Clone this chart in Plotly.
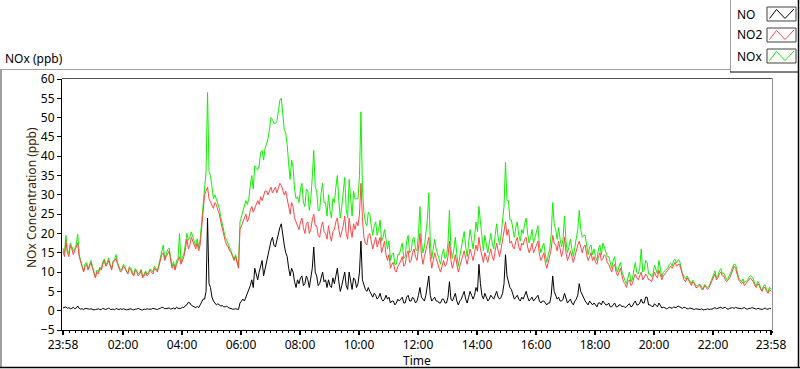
import plotly.graph_objects as go
import pandas as pd

# ---------------- data (3-minute samples) ----------------
START = "2023-05-01 23:58"
STEP_MIN = 3

NO2 = [
    15.5, 14, 18, 15, 14, 17, 16, 14.5, 15.5, 16.5, 17.5, 14, 12.5, 11, 10, 11.5, 12, 10.5, 11.5, 12.5,
    11, 9.5, 8.5, 10, 9.5, 11, 10.5, 12, 13, 11.5, 12, 13, 11.5, 10.5, 12.5, 13, 13.5, 12, 11, 10,
    10.5, 11.5, 11, 10, 9.5, 11, 10.5, 9.5, 9, 10.5, 10, 9, 9.5, 10.5, 8.5, 9, 10, 9, 9.5, 10.5,
    10, 9.5, 11, 10.5, 10, 11.5, 13, 14.5, 15, 13, 14, 15, 15.5, 13, 11, 12, 10.5, 12, 13, 14,
    12, 13, 14, 16, 18.5, 16, 17, 19, 18, 16.5, 16, 17.5, 15.5, 17, 21, 25, 30, 31, 32, 29,
    28, 27, 26.5, 28, 27.5, 26, 25, 23, 21, 19.5, 18, 17, 16.5, 15.5, 15, 14, 13, 14, 12.5, 11,
    21, 22, 23, 24.5, 25, 23, 24, 26, 27, 25.5, 26.5, 28, 28.5, 27.5, 29.5, 28.5, 30, 31, 31, 30,
    31, 32, 30.5, 31.5, 32, 30.5, 31.5, 33, 32.5, 31, 30, 31, 29, 27, 25, 28, 27, 24, 23, 21.5,
    21, 23, 24, 21.5, 20, 22.5, 23, 20, 21, 23.5, 25, 22, 22, 19.5, 19, 21.5, 23, 20.5, 20, 18.5,
    22, 19.5, 18, 20.5, 21, 23, 24, 21, 19, 20.5, 22, 24.5, 20, 18.5, 24, 21, 19, 22.5, 21, 23,
    22, 25, 33, 24, 19, 17.5, 17, 19.5, 20, 18, 16, 17.5, 19, 16.5, 17.5, 19, 15, 16.5, 18, 14.5,
    13, 14.5, 11, 12, 12.5, 10.5, 10, 11.5, 12, 13, 14, 11.5, 12, 14.5, 15.5, 12.5, 13, 15, 16, 14,
    13, 16, 20, 14.5, 12, 14, 16, 17.5, 19, 14, 11, 13, 15, 13.5, 12, 11, 10, 11.5, 13, 11.5,
    12, 14, 18, 13, 11, 12.5, 14.5, 12, 10, 11.5, 13, 14.5, 15.5, 13.5, 12, 14, 16, 14.5, 13, 15,
    17, 15.5, 19, 16, 14, 12.5, 15, 13.5, 12.5, 14.5, 16, 14, 13, 15.5, 17.5, 15.5, 14, 16, 18, 20,
    23, 19.5, 21, 17.5, 18, 16.5, 16, 18, 19, 16.5, 15.5, 17.5, 17, 18.5, 19, 16.5, 15, 16, 17.5, 15,
    16, 17, 18, 14.5, 13, 14, 15, 12.5, 11, 12.5, 14, 16, 19.5, 17.5, 17, 15.5, 18, 16, 14, 15.5,
    19, 15, 13, 14, 15.5, 14, 12.5, 14, 16, 17, 18, 16, 15, 16.5, 17, 14.5, 13, 14, 15, 13,
    14, 12.5, 12, 14, 15, 13, 13.5, 14.5, 14, 12.5, 12, 11, 10, 11.5, 12, 10, 9, 10, 11, 9,
    7.5, 7, 6, 7.5, 8, 6.5, 7, 8.5, 9.5, 8.5, 8, 9, 10, 8, 8.5, 9.5, 9, 8, 8, 7.5,
    8.5, 10, 9, 8.5, 10.5, 9, 8, 9, 9.5, 10, 10.5, 11, 11.5, 11, 12, 12.5, 11.5, 12, 12, 10.5,
    9, 8, 7.5, 8.5, 8, 7, 6.5, 7.5, 7, 6, 6, 6.5, 6.5, 5.5, 5.5, 6.5, 6, 5.5, 6, 7,
    8, 8.5, 9.5, 8, 8.5, 9.5, 10, 9, 9, 8, 7.5, 8, 8.5, 9.5, 10.5, 11.5, 11, 9.5, 8, 7.5,
    7, 7.5, 6.5, 7, 7.5, 8, 8.5, 8, 7.5, 6.5, 6, 7, 6.5, 5.5, 5, 6, 6, 5, 4.5, 5.5, 5,
]

NOX = [
    16.2, 14.9, 19.5, 15.6, 14.8, 17.5, 16.6, 15.4, 16, 17.2, 19.8, 14.6, 12.9, 11.5, 10.3, 12.1, 12.5, 10.8, 11.9, 13,
    11.4, 9.7, 8.8, 10.5, 10, 11.3, 10.8, 12.6, 13.4, 11.8, 12.5, 13.7, 11.8, 10.9, 12.9, 13.2, 14.5, 12.4, 11.3, 10.5,
    10.8, 12, 11.4, 10.2, 9.8, 11.4, 11, 9.8, 9.2, 10.9, 10.4, 9.6, 9.8, 10.7, 8.7, 9.4, 10.3, 9.5, 9.9, 10.8,
    10.4, 10.1, 11.5, 10.8, 10.3, 12, 13.6, 15.4, 17, 13.5, 14.6, 15.8, 16.2, 13.4, 11.5, 12.7, 10.9, 12.9, 13.6, 20,
    12.6, 13.9, 14.8, 17.3, 20, 18.2, 19, 20.4, 19.2, 17.4, 16.8, 18.6, 16.3, 18.5, 23.5, 28, 33, 36, 56.5, 36,
    35, 31, 29, 30, 29, 27.8, 26.5, 24.2, 22.3, 20.5, 19, 18.2, 17.3, 16.1, 15.5, 14.4, 13.4, 14.5, 12.9, 11.3,
    23, 24.5, 26, 27, 28.5, 27.5, 29, 32.5, 35, 31.5, 37.5, 37, 36.5, 37.5, 41, 41.5, 39, 42, 43, 44.5,
    47, 50, 49.5, 48.5, 48.5, 49, 51.5, 54.5, 55, 50, 47, 46, 43, 38, 34, 39, 37, 31.5, 29, 29.5,
    28, 31.5, 33, 28, 27, 31.5, 31, 26, 29, 34.5, 41.5, 32, 31, 26, 26, 30.5, 33, 28, 28, 24.5,
    30, 26, 24, 29, 28, 32, 35, 28.5, 24, 27, 30, 34.5, 26.5, 24, 34, 28, 24.5, 31, 29, 29,
    29, 35, 51.5, 32, 25.5, 23, 22, 25.5, 25, 22, 19.5, 22, 23, 19.5, 21, 23.5, 18, 19, 21, 18.5,
    16, 18, 13, 14.5, 15, 12, 12, 14.5, 14.5, 16, 17.5, 13.5, 14, 18, 19.5, 15, 15.5, 18.5, 19, 16,
    15.5, 20, 27, 18, 15, 16.5, 20, 23.5, 30.5, 18, 13.5, 16, 18.5, 16, 14.5, 13, 12, 14.5, 16, 13.5,
    14, 17.5, 26, 16, 13.5, 16, 19, 14.5, 11.5, 14, 16, 18.5, 20.5, 16.5, 14, 17.5, 21, 18.5, 16, 19,
    23, 20.5, 27, 23, 18, 15.5, 19.5, 17, 15, 17.5, 20, 17.5, 16, 19.5, 22.5, 19, 17, 19.5, 22.5, 27,
    38.5, 28.5, 28.5, 23.5, 23.5, 20.5, 19, 21.5, 23, 19.5, 18, 21, 20, 22.5, 24, 20, 17.5, 19, 21, 17.5,
    19, 20.5, 22, 17, 15, 16.5, 17.5, 14.5, 12.5, 14.5, 16, 20, 28, 22.5, 21, 18.5, 21.5, 18.5, 16.5, 18.5,
    24.5, 18, 15, 16.5, 18.5, 16, 14, 16.5, 19, 21, 26, 21, 19, 19.5, 19.5, 16.5, 14.5, 16.5, 17, 14.5,
    16, 14, 13, 16, 17, 14.5, 17.5, 16.5, 15.5, 14, 14, 12, 11, 13, 14, 11, 10, 11.5, 12.5, 10,
    8.7, 7.8, 7, 9, 10, 7.5, 8.2, 10.5, 12.5, 10, 9.5, 11, 16, 10, 10.5, 13, 12.5, 9.5, 9.5, 8.7,
    9.5, 11.8, 10.5, 9.5, 13, 10.2, 8.7, 9.9, 10.3, 10.5, 11.1, 11.9, 12.3, 11.6, 13, 13.3, 12.4, 13.2, 13, 11.2,
    9.6, 8.9, 8.3, 9, 8.5, 7.7, 7.1, 7.9, 7.3, 6.5, 6.4, 6.8, 6.8, 6, 5.7, 6.8, 6.3, 6, 6.3, 7.4,
    8.4, 9.1, 10.3, 8.5, 9.1, 10.3, 10.9, 9.6, 9.7, 8.9, 8, 8.4, 9.1, 10.2, 11.3, 12.1, 11.9, 10.2, 8.6, 8,
    7.5, 8.2, 7.3, 7.5, 7.9, 8.6, 9.1, 8.8, 8.2, 7, 6.4, 7.6, 7, 5.8, 5.3, 6.5, 6.7, 5.4, 4.9, 6.1, 5.5,
]

NO = [
    0.7, 0.9, 1.0, 0.6, 0.8, 0.5, 0.6, 0.9, 0.5, 0.7, 1.2, 0.6, 0.4, 0.5, 0.3, 0.6, 0.5, 0.3, 0.4, 0.5,
    0.4, 0.2, 0.3, 0.5, 0.5, 0.3, 0.3, 0.6, 0.4, 0.3, 0.5, 0.7, 0.3, 0.4, 0.4, 0.2, 0.6, 0.4, 0.3, 0.5,
    0.3, 0.5, 0.4, 0.2, 0.3, 0.4, 0.5, 0.3, 0.2, 0.4, 0.4, 0.6, 0.3, 0.2, 0.2, 0.4, 0.3, 0.5, 0.4, 0.3,
    0.4, 0.6, 0.5, 0.3, 0.3, 0.5, 0.6, 0.9, 0.8, 0.5, 0.6, 0.8, 0.7, 0.4, 0.5, 0.7, 0.4, 0.9, 0.6, 0.5,
    0.6, 0.9, 0.8, 1.3, 1.5, 2.2, 2.0, 1.4, 1.2, 0.9, 0.8, 1.1, 0.8, 1.5, 2.5, 3, 3, 5, 24, 7,
    6, 3.5, 2.5, 2, 1.5, 1.8, 1.5, 1.2, 1.3, 1.0, 1.0, 1.2, 0.8, 0.6, 0.5, 0.4, 0.4, 0.5, 0.4, 0.3,
    2, 2.5, 3, 2.5, 3.5, 4.5, 5, 6.5, 8, 6, 11, 9, 8, 10, 11.5, 13, 9, 11, 12, 14.5,
    16, 18, 19, 17, 16.5, 18.5, 20, 21.5, 22.5, 19, 17, 15, 14, 11, 9, 11, 10, 7.5, 6, 8,
    7, 8.5, 9, 6.5, 7, 9, 8, 6, 8, 11, 16.5, 10, 9, 6.5, 7, 9, 10, 7.5, 8, 6,
    8, 6.5, 6, 8.5, 7, 9, 11, 7.5, 5, 6.5, 8, 10, 6.5, 5.5, 10, 7, 5.5, 8.5, 8, 6,
    7, 10, 18, 8, 6.5, 5.5, 5, 6, 5, 4, 3.5, 4.5, 4, 3, 3.5, 4.5, 3, 2.5, 3, 4,
    3, 3.5, 2, 2.5, 2.5, 1.5, 2, 3, 2.5, 3, 3.5, 2, 2, 3.5, 4, 2.5, 2.5, 3.5, 3, 2,
    2.5, 4, 6, 3.5, 3, 2.5, 4, 6, 9, 4, 2.5, 3, 3.5, 2.5, 2.5, 2, 2, 3, 3, 2,
    2, 3.5, 7.5, 3, 2.5, 3.5, 4.5, 2.5, 1.5, 2.5, 3, 4, 5, 3, 2, 3.5, 5, 4, 3, 4,
    6, 5, 12, 7, 4, 3, 4.5, 3.5, 2.5, 3, 4, 3.5, 3, 4, 5, 3.5, 3, 3.5, 4.5, 7,
    14.5, 9, 7.5, 6, 5.5, 4, 3, 3.5, 4, 3, 2.5, 3.5, 3, 4, 5, 3.5, 2.5, 3, 3.5, 2.5,
    3, 3.5, 4, 2.5, 2, 2.5, 2.5, 2, 1.5, 2, 2, 4, 9, 5, 4, 3, 3.5, 2.5, 2.5, 3,
    4.5, 3, 2, 2.5, 3, 2, 1.5, 2.5, 3, 4, 7, 5, 4, 3, 2.5, 2, 1.5, 2.5, 2, 1.5,
    2, 1.5, 1, 2, 2, 1.5, 2.5, 2, 1.5, 1.5, 2, 1, 1, 1.5, 2, 1, 1, 1.5, 1.5, 1,
    1.2, 0.8, 1, 1.5, 1.8, 1, 1.2, 2, 2.5, 1.5, 1.5, 2, 3, 2, 2, 3.5, 3.5, 1.5, 1.5, 1.2,
    1, 1.8, 1.5, 1, 2, 1.2, 0.7, 0.9, 0.8, 0.5, 0.6, 0.9, 0.8, 0.6, 1, 0.8, 0.9, 1.2, 1, 0.7,
    0.6, 0.9, 0.8, 0.5, 0.5, 0.7, 0.6, 0.4, 0.3, 0.5, 0.4, 0.3, 0.3, 0.5, 0.2, 0.3, 0.3, 0.5, 0.3, 0.4,
    0.4, 0.6, 0.8, 0.5, 0.6, 0.8, 0.9, 0.6, 0.7, 0.9, 0.5, 0.4, 0.6, 0.7, 0.8, 0.6, 0.9, 0.7, 0.6, 0.5,
    0.5, 0.7, 0.8, 0.5, 0.4, 0.6, 0.6, 0.8, 0.7, 0.5, 0.4, 0.6, 0.5, 0.3, 0.3, 0.5, 0.7, 0.4, 0.4, 0.6, 0.5,
]

TICK_TIMES = ["2023-05-01 23:58", "2023-05-02 02:00", "2023-05-02 04:00", "2023-05-02 06:00",
              "2023-05-02 08:00", "2023-05-02 10:00", "2023-05-02 12:00", "2023-05-02 14:00",
              "2023-05-02 16:00", "2023-05-02 18:00", "2023-05-02 20:00", "2023-05-02 22:00",
              "2023-05-02 23:58"]
TICK_LABELS = ["23:58", "02:00", "04:00", "06:00", "08:00", "10:00", "12:00", "14:00",
               "16:00", "18:00", "20:00", "22:00", "23:58"]
Y_TICKS = list(range(-5, 61, 5))

SERIES_NAMES = ["NO", "NO2", "NOx"]
SERIES_COLORS = ["#000000", "#ff4646", "#10f000"]

# ---------------- figure ----------------
times = pd.date_range(START, periods=len(NO), freq=f"{STEP_MIN}min")

W, H = 800, 369
L, R, T, B = 62, 772, 79, 330
FONT = "Noto Sans, Open Sans, DejaVu Sans, sans-serif"


def px(x):
    return (x - L) / (R - L)


def py(y):
    return (B - y) / (B - T)


fig = go.Figure()
# draw order: NOx (bottom), NO2, NO (top)
for vals, name, col in [(NOX, "NOx", SERIES_COLORS[2]), (NO2, "NO2", SERIES_COLORS[1]),
                        (NO, "NO", SERIES_COLORS[0])]:
    fig.add_trace(go.Scatter(x=times, y=vals, mode="lines", name=name,
                             line=dict(color=col, width=1), hoverinfo="skip",
                             showlegend=False))

x0 = pd.Timestamp(TICK_TIMES[0]) - pd.Timedelta(minutes=2)
x1 = pd.Timestamp(TICK_TIMES[-1]) + pd.Timedelta(minutes=2)

fig.update_layout(
    width=W, height=H, autosize=False,
    margin=dict(l=L, r=W - R, t=T, b=H - B, pad=0),
    paper_bgcolor="white", plot_bgcolor="white",
    font=dict(family=FONT, size=12, color="black"),
    xaxis=dict(type="date", range=[x0, x1], tickmode="array", tickvals=TICK_TIMES,
               ticktext=TICK_LABELS, ticks="outside", ticklen=4, tickwidth=2,
               tickcolor="black", showline=True, linecolor="black", linewidth=1,
               showgrid=False, zeroline=False, tickfont=dict(size=12, color="black"),
               minor=dict(ticks="outside", ticklen=2, tickwidth=1, tickcolor="black",
                          dtick=12 * 60 * 1000, tick0="2023-05-02 02:00", showgrid=False)),
    yaxis=dict(range=[-5, 60], tickmode="array", tickvals=Y_TICKS, ticks="outside",
               ticklen=4, tickcolor="black", showline=True, linecolor="black",
               linewidth=1, showgrid=False, zeroline=False,
               tickfont=dict(size=12, color="black")),
)

shapes = []
gray = "#a0a0a0"
# outer panel frame
shapes.append(dict(type="line", xref="paper", yref="paper", x0=px(0), x1=px(730),
                   y0=py(69.5), y1=py(69.5), line=dict(color=gray, width=1)))
shapes.append(dict(type="line", xref="paper", yref="paper", x0=px(1), x1=px(1),
                   y0=py(69.5), y1=py(368), line=dict(color=gray, width=2)))
shapes.append(dict(type="line", xref="paper", yref="paper", x0=px(0), x1=px(800),
                   y0=py(367.5), y1=py(367.5), line=dict(color="black", width=1.5)))
shapes.append(dict(type="line", xref="paper", yref="paper", x0=px(798.5), x1=px(798.5),
                   y0=py(72), y1=py(368), line=dict(color="black", width=1.5)))
# legend panel
shapes.append(dict(type="line", xref="paper", yref="paper", x0=px(730.5), x1=px(730.5),
                   y0=py(0), y1=py(72), line=dict(color=gray, width=1)))
shapes.append(dict(type="line", xref="paper", yref="paper", x0=px(730), x1=px(799),
                   y0=py(72), y1=py(72), line=dict(color="black", width=1)))
shapes.append(dict(type="line", xref="paper", yref="paper", x0=px(798.5), x1=px(798.5),
                   y0=py(0), y1=py(72), line=dict(color="black", width=1.5)))
# plot area top and right borders
shapes.append(dict(type="line", xref="paper", yref="paper", x0=px(62), x1=px(772.5),
                   y0=py(78.5), y1=py(78.5), line=dict(color="#505050", width=1)))
shapes.append(dict(type="line", xref="paper", yref="paper", x0=px(772.5), x1=px(772.5),
                   y0=py(78.5), y1=py(330), line=dict(color="#909090", width=1)))

annotations = []
# legend rows
row_centers = [14, 35, 56]
for name, col, yc in zip(SERIES_NAMES, SERIES_COLORS, row_centers):
    annotations.append(dict(xref="paper", yref="paper", x=px(735), y=py(yc), text=name,
                            showarrow=False, xanchor="left", yanchor="middle",
                            font=dict(size=12, color="black")))
    yt, yb = yc - 7, yc + 7
    shapes.append(dict(type="rect", xref="paper", yref="paper", x0=px(767), x1=px(796),
                       y0=py(yb), y1=py(yt), line=dict(color="#404040", width=1),
                       fillcolor="white"))
    path = "M {:.5f},{:.5f} L {:.5f},{:.5f} L {:.5f},{:.5f} L {:.5f},{:.5f}".format(
        px(769.5), py(yb - 2.5), px(776.5), py(yt + 2.5), px(785), py(yb - 2.5),
        px(794), py(yt + 2))
    shapes.append(dict(type="path", xref="paper", yref="paper", path=path,
                       line=dict(color=col, width=1)))

# titles
annotations.append(dict(xref="paper", yref="paper", x=px(3), y=py(58), text="NOx (ppb)",
                        showarrow=False, xanchor="left", yanchor="middle",
                        font=dict(size=12, color="black")))
annotations.append(dict(xref="paper", yref="paper", x=px(31), y=py(198),
                        text="NOx Concentration (ppb)", textangle=-90, showarrow=False,
                        xanchor="center", yanchor="middle",
                        font=dict(size=12, color="#3c1e0a")))
annotations.append(dict(xref="paper", yref="paper", x=px(417), y=py(360), text="Time",
                        showarrow=False, xanchor="center", yanchor="middle",
                        font=dict(size=12, color="black")))

fig.update_layout(shapes=shapes, annotations=annotations)

fig.write_html("out.html", config={"displayModeBar": False},
               post_script="document.body.style.margin='0';")
